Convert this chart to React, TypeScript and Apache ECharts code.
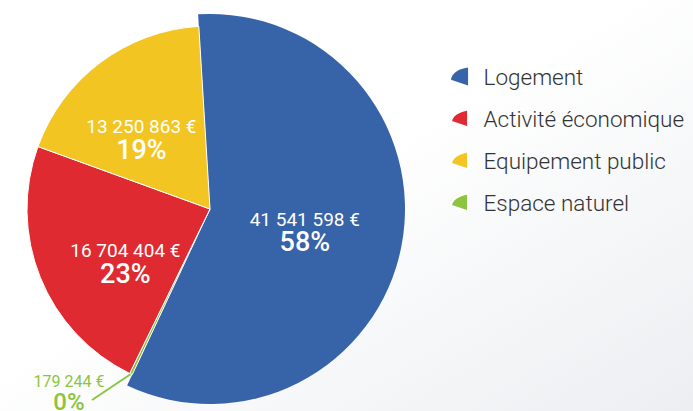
import React, { useEffect, useRef } from "react";
import * as echarts from "echarts";

const categories = ["Logement", "Espace naturel", "Activité économique", "Equipement public"];
const values = [41541598, 179244, 16704404, 13250863];
const percentLabels = ["58%", "0%", "23%", "19%"];
const colors = ["#3763a9", "#8cc43f", "#e02a31", "#f3c522"];
const legendOrder = ["Logement", "Activité économique", "Equipement public", "Espace naturel"];

const fmt = (v: number) => String(v).replace(/\B(?=(\d{3})+(?!\d))/g, " ") + " €";

// label nudges (px) applied to the library-computed label positions
const labelShift: Record<number, [number, number]> = { 0: [2, 6], 2: [3, 20], 3: [-12, 7] };

export default function App() {
  const ref = useRef<HTMLDivElement>(null);
  useEffect(() => {
    document.body.style.margin = "0";
    if (!ref.current) return;
    const chart = echarts.init(ref.current, null, { renderer: "svg" });
    const icon = "path://M18,0 L18,19 L0,13 Q1,3 18,0 Z";
    const font = "Roboto";
    chart.setOption({
      animation: false,
      backgroundColor: new echarts.graphic.LinearGradient(0, 0, 1, 1, [
        { offset: 0, color: "#ffffff" },
        { offset: 0.45, color: "#ffffff" },
        { offset: 1, color: "#eceef1" },
      ]),
      legend: {
        orient: "vertical",
        left: 445,
        top: 60,
        itemWidth: 18,
        itemHeight: 18,
        itemGap: 19,
        icon,
        data: legendOrder,
        textStyle: { fontFamily: font, fontSize: 22.5, fontWeight: 300, color: "#333333", padding: [0, 0, 0, 10] },
      },
      series: [
        {
          type: "pie",
          center: [210, 209],
          radius: [0, 183],
          startAngle: 93.5,
          z: 2,
          labelLayout: (p: any) => {
            if (p.dataIndex === 1) {
              const start = p.labelLinePoints ? p.labelLinePoints[0] : [130, 375];
              const lx = 69;
              const ly = 393;
              return {
                x: lx,
                y: ly,
                align: "center",
                verticalAlign: "middle",
                labelLinePoints: [start, [lx + 23, ly + 7]],
              };
            }
            const s = labelShift[p.dataIndex] || [0, 0];
            return { dx: s[0], dy: s[1] };
          },
          data: categories.map((n, i) => {
            const outside = i === 1;
            const txtColor = outside ? colors[1] : "#ffffff";
            return {
              name: n,
              value: values[i],
              itemStyle: { color: colors[i], borderColor: "#ffffff", borderWidth: i === 0 ? 0 : 1 },
              label: {
                show: true,
                position: outside ? "outside" : "inside",
                formatter: `{v|${fmt(values[i])}}\n{p|${percentLabels[i]}}`,
                rich: outside
                  ? {
                      v: { fontFamily: font, fontSize: 16, fontWeight: 400, color: txtColor, align: "center", lineHeight: 17 },
                      p: { fontFamily: font, fontSize: 24, fontWeight: 500, color: txtColor, align: "center", lineHeight: 24 },
                    }
                  : {
                      v: { fontFamily: font, fontSize: 19, fontWeight: 400, color: txtColor, align: "center", lineHeight: 19 },
                      p: { fontFamily: font, fontSize: 27, fontWeight: 500, color: txtColor, align: "center", lineHeight: 27 },
                    },
              },
              labelLine: outside
                ? { show: true, length: 30, length2: 0, lineStyle: { color: colors[1], width: 2 } }
                : { show: false },
            };
          }),
        },
        {
          type: "pie",
          center: [210, 209],
          radius: [0, 195],
          startAngle: 93.5,
          silent: true,
          z: 1,
          label: { show: false },
          labelLine: { show: false },
          data: categories.map((n, i) => ({
            name: n,
            value: values[i],
            itemStyle: { color: i === 0 ? colors[0] : "rgba(0,0,0,0)", borderWidth: 0 },
          })),
        },
      ],
    });
    return () => chart.dispose();
  }, []);
  return <div ref={ref} style={{ width: 693, height: 411 }} />;
}
